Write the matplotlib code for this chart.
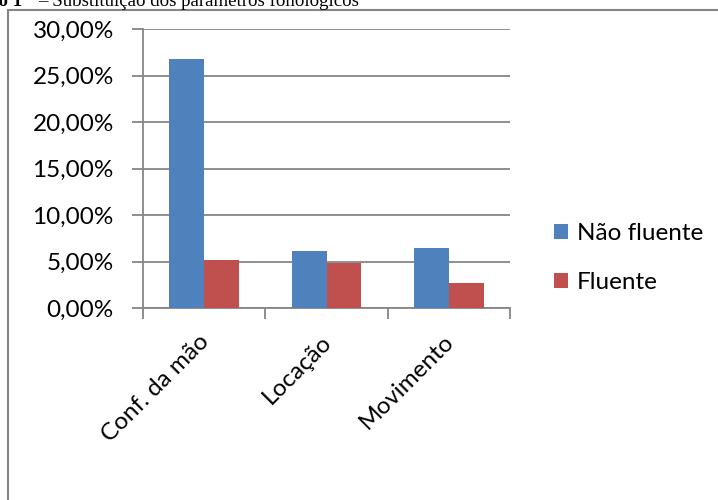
import numpy as np
import matplotlib
matplotlib.use("Agg")
import matplotlib.pyplot as plt
from matplotlib.patches import Rectangle
from matplotlib.ticker import FuncFormatter
from matplotlib.transforms import ScaledTranslation

categories = ["Conf. da mão", "Locação", "Movimento"]
nao_fluente = [26.8, 6.15, 6.45]
fluente = [5.2, 4.9, 2.7]
series_names = ["Não fluente", "Fluente"]
yticks = [0, 5, 10, 15, 20, 25, 30]

BLUE = "#4F81BD"
RED = "#C0504D"
GRAY = "#868686"
W, H = 718, 500
FS = 17.5

plt.rcParams["font.family"] = ["Lato", "DejaVu Sans"]

fig = plt.figure(figsize=(W / 100, H / 100), dpi=100)

# chart frame (only the top and left edges fall inside the page)
fig.patches.append(Rectangle((8 / W, -0.1), 1.2, (1 - 10 / H) + 0.1,
                             transform=fig.transFigure, fill=False,
                             edgecolor=GRAY, linewidth=1.5))

# caption above the frame, partially cut by the page edge
fig.text(22 / W, 1 - 6.5 / H, "Gráfico 1", ha="right", va="baseline",
         fontsize=13.6, fontweight="bold", family="Liberation Serif")
fig.text(38.5 / W, 1 - 6.5 / H, "– Substituição dos parâmetros fonológicos",
         ha="left", va="baseline", fontsize=13.6, family="Liberation Serif")

ax = fig.add_axes([143 / W, 1 - 308.3 / H, (510 - 143) / W, (308.3 - 29.3) / H])
x = np.arange(len(categories))
bw = 1 / 3.5
ax.bar(x - bw / 2, nao_fluente, bw, color=BLUE, label=series_names[0], zorder=3)
ax.bar(x + bw / 2, fluente, bw, color=RED, label=series_names[1], zorder=3)

ax.set_xlim(-0.5, len(categories) - 0.5)
ax.set_ylim(0, 30)
ax.set_yticks(yticks)
ax.yaxis.set_major_formatter(FuncFormatter(lambda v, p: f"{v:.2f}%".replace(".", ",")))
ax.grid(axis="y", color=GRAY, linewidth=1.3, zorder=0)
ax.tick_params(axis="y", length=8, width=1.3, color=GRAY, labelsize=FS, pad=13)

ax.set_xticks(np.arange(len(categories) + 1) - 0.5)
ax.set_xticklabels([])
ax.tick_params(axis="x", length=8, width=1.3, color=GRAY)
ax.set_xticks(x, minor=True)
ax.set_xticklabels(categories, minor=True, rotation=45, ha="right",
                   rotation_mode="anchor", fontsize=FS)
ax.tick_params(axis="x", which="minor", length=0, pad=15)
shift = ScaledTranslation(-6 / 100, -2 / 100, fig.dpi_scale_trans)
for lbl in ax.get_xticklabels(minor=True):
    lbl.set_transform(lbl.get_transform() + shift)

for s in ["top", "right"]:
    ax.spines[s].set_visible(False)
for s in ["left", "bottom"]:
    ax.spines[s].set_color(GRAY)
    ax.spines[s].set_linewidth(1.3)

ax.legend(loc="center left", bbox_to_anchor=(532 / W, 1 - 258 / H),
          bbox_transform=fig.transFigure, frameon=False, fontsize=FS,
          handlelength=0.6, handleheight=0.6, handletextpad=0.35,
          labelspacing=1.15)

fig.savefig("out.png", dpi=100)
